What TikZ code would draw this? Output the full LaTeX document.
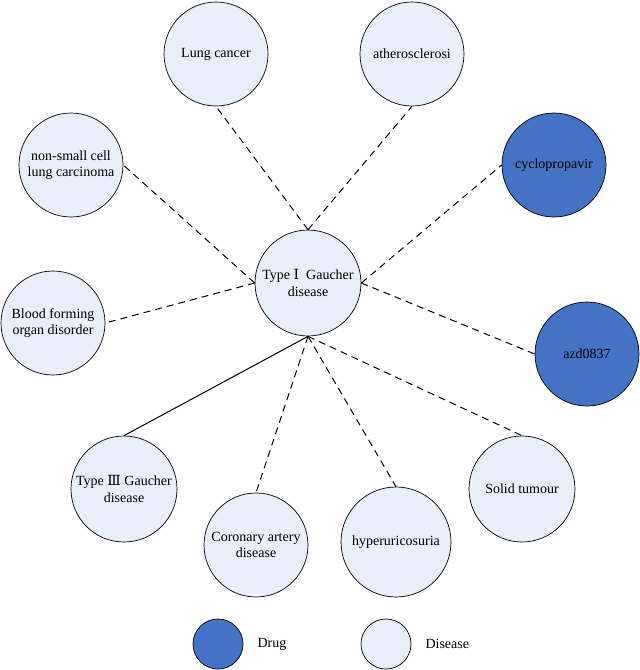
\documentclass[tikz,border=0pt]{standalone}
\usepackage{fontspec}
\setmainfont{Liberation Serif}
\newfontfamily\numfont{DejaVu Serif}
\definecolor{drugblue}{HTML}{4472C4}
\definecolor{diseaseblue}{HTML}{E9EEF8}

\begin{document}
\begin{tikzpicture}[x=1pt,y=-1pt,line cap=butt,line join=round,
  ent/.style={circle,draw=black,line width=0.7pt,inner sep=0pt,minimum size=104pt,
    align=center,font=\fontsize{14}{16.5}\selectfont},
  disease/.style={ent,fill=diseaseblue},
  drug/.style={ent,fill=drugblue},
  link/.style={line width=1pt,dash pattern=on 7pt off 5pt},
  tie/.style={line width=1pt},
  keytxt/.style={anchor=west,inner sep=0pt,font=\fontsize{14}{16.5}\selectfont}]
  \useasboundingbox (0,0) rectangle (640,670);
  % centre
  \node[disease,minimum size=106pt] (gd1) at (308,283) {Type {\numfont Ⅰ}\enspace Gaucher\\disease};
  % upper ring
  \node[disease] (lung) at (216,54) {Lung cancer};
  \node[disease] (athero) at (412,54) {atherosclerosi};
  \node[disease] (nsclc) at (71,165) {non-small cell\\lung carcinoma};
  \node[drug] (cyclo) at (554,165) {cyclopropavir};
  \node[disease] (blood) at (53,323) {Blood forming\\organ disorder};
  \node[drug] (azd) at (587,354) {azd0837};
  % lower ring
  \node[disease,minimum size=106pt] (gd3) at (124,489) {Type {\numfont Ⅲ} Gaucher\\disease};
  \node[disease] (coron) at (256,545) {Coronary artery\\disease};
  \node[disease,minimum size=110pt] (hyper) at (396,542) {hyperuricosuria};
  \node[disease,minimum size=106pt] (solid) at (522,489) {Solid tumour};
  % links
  \draw[link] (gd1.north) -- (lung.south);
  \draw[link] (gd1.north) -- (athero.south);
  \draw[link] (gd1.west) -- (nsclc.east);
  \draw[link] (gd1.west) -- (blood.east);
  \draw[link] (gd1.east) -- (cyclo.west);
  \draw[link] (gd1.east) -- (azd.west);
  \draw[tie] (gd1.south) -- (gd3.north);
  \draw[link] (gd1.south) -- (coron.north);
  \draw[link] (gd1.south) -- (hyper.north);
  \draw[link] (gd1.south) -- (solid.north);
  % legend
  \node[drug,minimum size=50pt] (keydrug) at (218,644) {};
  \node[keytxt] (keydrugtxt) at ([xshift=14pt]keydrug.east) {Drug};
  \node[disease,minimum size=50pt] (keydis) at (386,644) {};
  \node[keytxt] (keydistxt) at ([xshift=14pt]keydis.east) {Disease};
\end{tikzpicture}
\end{document}
